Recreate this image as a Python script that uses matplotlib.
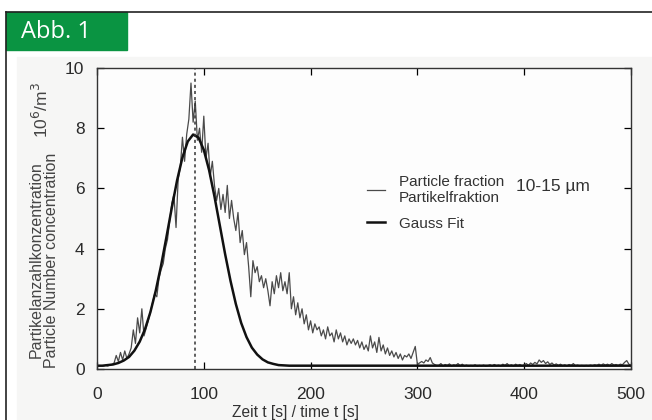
import numpy as np
import matplotlib.pyplot as plt
from matplotlib.patches import Rectangle

plt.rcParams['font.family'] = ['Liberation Sans', 'DejaVu Sans']

# Messwerte, alle 2 s (10^6/m^3)
zeit = np.arange(0, 501, 2)
partikel = [
    0.10, 0.10, 0.11, 0.10, 0.12, 0.10, 0.13, 0.15,
    0.20, 0.45, 0.25, 0.55, 0.30, 0.60, 0.35, 0.50,
    0.70, 1.30, 0.85, 1.70, 1.20, 2.00, 1.10, 1.35,
    1.60, 1.90, 2.20, 2.50, 2.40, 3.00, 3.30, 3.50,
    4.00, 4.30, 4.90, 5.50, 5.80, 4.70, 6.30, 6.70,
    7.70, 6.90, 7.80, 8.30, 9.50, 8.20, 8.90, 7.60,
    8.00, 7.20, 8.40, 7.00, 7.50, 6.40, 6.90, 6.10,
    5.60, 6.00, 5.30, 5.80, 5.20, 6.10, 5.00, 5.60,
    5.00, 4.60, 5.20, 4.20, 4.60, 3.80, 4.20, 3.40,
    2.40, 3.60, 3.20, 3.40, 2.90, 3.10, 2.70, 3.00,
    2.60, 2.10, 2.90, 2.50, 3.10, 2.70, 3.20, 2.60,
    2.90, 2.50, 3.20, 2.00, 2.40, 1.80, 2.20, 1.70,
    2.00, 1.50, 1.80, 1.30, 1.60, 1.20, 1.50, 1.30,
    1.40, 1.10, 1.30, 1.00, 1.40, 1.10, 1.20, 0.90,
    1.30, 1.00, 1.20, 0.90, 1.10, 0.80, 1.00, 0.85,
    1.00, 0.80, 0.95, 0.70, 0.90, 0.65, 0.80, 0.60,
    1.10, 0.70, 0.90, 0.55, 1.05, 0.60, 0.80, 0.50,
    0.70, 0.45, 0.60, 0.40, 0.55, 0.35, 0.50, 0.30,
    0.45, 0.40, 0.50, 0.35, 0.55, 0.75, 0.15, 0.20,
    0.25, 0.20, 0.30, 0.25, 0.38, 0.20, 0.15, 0.12,
    0.12, 0.18, 0.10, 0.15, 0.12, 0.17, 0.10, 0.14, 0.12, 0.18,
    0.11, 0.16, 0.10, 0.13, 0.09, 0.12, 0.10, 0.14, 0.09, 0.12,
    0.10, 0.13, 0.09, 0.11, 0.14, 0.10, 0.15, 0.11, 0.13, 0.10,
    0.16, 0.12, 0.18, 0.11, 0.14, 0.10, 0.16, 0.12, 0.15, 0.11,
    0.14, 0.18, 0.12, 0.20, 0.15, 0.22, 0.17, 0.30, 0.22, 0.28,
    0.18, 0.24, 0.15, 0.20, 0.13, 0.17, 0.12, 0.16, 0.11, 0.14,
    0.10, 0.15, 0.12, 0.18, 0.11, 0.13, 0.10, 0.12, 0.09, 0.12,
    0.10, 0.13, 0.11, 0.14, 0.12, 0.16, 0.12, 0.17, 0.13, 0.16,
    0.12, 0.18, 0.13, 0.15, 0.12, 0.16, 0.14, 0.22, 0.28, 0.16, 0.12,
]

zeit_fit = np.arange(0, 501, 5)
gauss = [
    0.11, 0.11, 0.13, 0.15, 0.20, 0.28, 0.40, 0.61, 0.91, 1.33,
    1.89, 2.60, 3.44, 4.38, 5.35, 6.27, 7.03, 7.56, 7.79, 7.69,
    7.28, 6.60, 5.73, 4.77, 3.81, 2.93, 2.16, 1.53, 1.06, 0.71,
    0.48, 0.32, 0.22, 0.17, 0.13, 0.12,
] + [0.11] * 65

t_peak = 92

fig = plt.figure(figsize=(6.52, 4.20), dpi=100)

# Rahmen + grüner Kasten
fig.add_artist(plt.Line2D([6/652, 1], [1 - 12/420, 1 - 12/420], color='#222', lw=1.2))
fig.add_artist(plt.Line2D([6/652, 6/652], [0, 1 - 12/420], color='#222', lw=1.2))
fig.add_artist(Rectangle((17/652, 0), 1 - 17/652, 1 - 57/420, color='#f6f6f5', zorder=-2))
fig.add_artist(Rectangle((6/652, 1 - 50/420), 121/652, 38/420, color='#0a9442'))
fig.text(21/652, 1 - 32/420, 'Abb. 1', color='white', fontsize=17, va='center', ha='left',
         family=['Open Sans', 'DejaVu Sans'])

ax = fig.add_axes([97/652, 1 - 369/420, 534/652, 301/420])
ax.set_facecolor('#fdfdfd')

ax.plot(zeit, partikel, color='#4a4a4a', lw=0.9, label='Particle fraction\nPartikelfraktion')
ax.plot(zeit_fit, gauss, color='#111', lw=1.8, label='Gauss Fit')
ax.axvline(t_peak, color='#333', lw=1.1, ls=(0, (2, 2)))

ax.set_xlim(0, 500)
ax.set_ylim(0, 10)
ax.set_xticks([0, 100, 200, 300, 400, 500])
ax.set_yticks([0, 2, 4, 6, 8, 10])
ax.tick_params(direction='in', top=True, right=True, length=5, width=0.9,
               labelsize=12.5, labelcolor='#2a2a2a')
ax.tick_params(axis='x', pad=13)
ax.tick_params(axis='y', pad=9)
for s in ax.spines.values():
    s.set_color('#333')
    s.set_linewidth(1.0)

leg = ax.legend(loc='upper left', bbox_to_anchor=(0.48, 0.69), frameon=False, fontsize=11,
                handlelength=1.2, handletextpad=0.9, labelspacing=0.75, labelcolor='#333')
fig.text(516/652, 1 - 186/420, '10-15 µm', fontsize=12.5, color='#333', va='center', ha='left')

fig.text(296/652, 1 - 412/420, 'Zeit t [s] / time t [s]', fontsize=11.2, color='#333', ha='center', va='center')
fig.text(36/652, 1 - 260/420, 'Partikelanzahlkonzentration', fontsize=11.5, color='#444',
         rotation=90, ha='center', va='center')
fig.text(52/652, 1 - 260/420, 'Particle Number concentration', fontsize=11.5, color='#444',
         rotation=90, ha='center', va='center')
fig.text(41/652, 1 - 110/420, r'10$^6$/m$^3$', fontsize=12.5, color='#444',
         rotation=90, ha='center', va='center')

fig.savefig('out.png', dpi=100)
